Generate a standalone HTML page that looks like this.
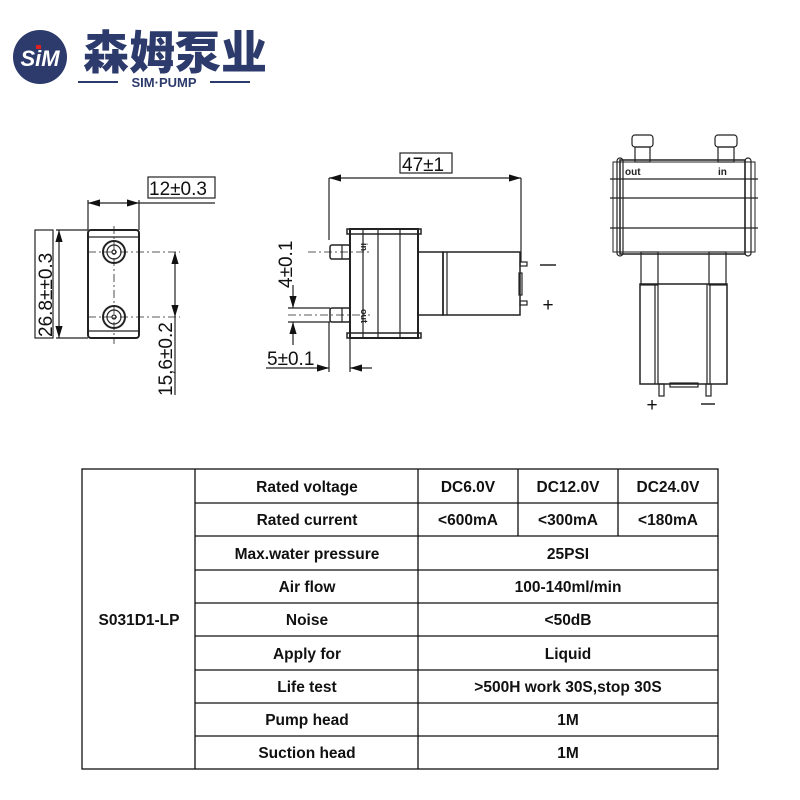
<!DOCTYPE html>
<html><head><meta charset="utf-8"><style>
body{margin:0;background:#fff;width:800px;height:800px;overflow:hidden}
svg{display:block}
.t{font-family:"Liberation Sans Narrow","Liberation Sans",sans-serif;font-weight:bold;font-size:15.5px;fill:#111;text-anchor:middle}
.d{font-family:"Liberation Sans",sans-serif;font-size:19px;fill:#111}
</style></head><body>
<svg width="800" height="800" viewBox="0 0 800 800" xmlns="http://www.w3.org/2000/svg">
<defs><marker id="a" markerWidth="10" markerHeight="6" refX="10" refY="3" orient="auto-start-reverse"><path d="M0,0 L10,3 L0,6z" fill="#111"/></marker></defs>
<!-- logo -->
<circle cx="40" cy="57" r="27" fill="#2c3a6c"/>
<text x="40" y="66" font-family="Liberation Sans,sans-serif" font-weight="bold" font-style="italic" font-size="22" fill="#fff" text-anchor="middle">SiM</text>
<rect x="36" y="45" width="5" height="4" fill="#e02020"/>
<text x="175" y="69" font-family="'Noto Sans CJK SC',sans-serif" font-weight="900" font-size="46" fill="#2c3a6c" text-anchor="middle">森姆泵业</text>
<line x1="78" y1="82" x2="118" y2="82" stroke="#2c3a6c" stroke-width="2"/>
<line x1="210" y1="82" x2="250" y2="82" stroke="#2c3a6c" stroke-width="2"/>
<text x="164" y="87" font-family="Liberation Sans,sans-serif" font-weight="bold" font-size="13" fill="#2c3a6c" text-anchor="middle">SIM·PUMP</text>

<g stroke="#222" fill="none" stroke-width="1.2">
<!-- left view -->
<rect x="88" y="230" width="51" height="108" rx="3" stroke-width="2"/>
<line x1="88" y1="237" x2="139" y2="237"/><line x1="88" y1="331" x2="139" y2="331"/>
<circle cx="114" cy="252" r="11" stroke-width="2"/><circle cx="114" cy="252" r="7"/><circle cx="114" cy="252" r="2"/>
<circle cx="114" cy="317" r="11" stroke-width="2"/><circle cx="114" cy="317" r="7"/><circle cx="114" cy="317" r="2"/>
<line x1="114" y1="226" x2="114" y2="344" stroke-dasharray="8,3,2,3" stroke-width="0.8"/>
<line x1="88" y1="252" x2="180" y2="252" stroke-dasharray="8,3,2,3" stroke-width="0.8"/>
<line x1="88" y1="317" x2="180" y2="317" stroke-dasharray="8,3,2,3" stroke-width="0.8"/>
<line x1="88" y1="200" x2="88" y2="230"/><line x1="139" y1="200" x2="139" y2="230"/>
<line x1="88" y1="203" x2="139" y2="203" marker-start="url(#a)" marker-end="url(#a)"/>
<line x1="139" y1="203" x2="215" y2="203"/>
<rect x="148" y="177" width="67" height="21"/>
<line x1="56" y1="230" x2="88" y2="230"/><line x1="56" y1="338" x2="88" y2="338"/>
<line x1="59" y1="230" x2="59" y2="338" marker-start="url(#a)" marker-end="url(#a)"/>
<rect x="35" y="230" width="18" height="108"/>
<line x1="175" y1="252" x2="175" y2="317" marker-start="url(#a)" marker-end="url(#a)"/>
<line x1="175" y1="317" x2="175" y2="395"/>

<!-- middle view -->
<rect x="350" y="229" width="68" height="109" stroke-width="2"/>
<rect x="347" y="229" width="74" height="5" stroke-width="1.5"/><rect x="347" y="333" width="74" height="5" stroke-width="1.5"/>
<line x1="363" y1="229" x2="363" y2="338"/><line x1="378" y1="229" x2="378" y2="338"/><line x1="400" y1="229" x2="400" y2="338"/>
<path d="M418,252 H443 V315 H418" stroke-width="1.5"/>
<rect x="443" y="252" width="77" height="63" stroke-width="1.5"/>
<line x1="447" y1="252" x2="447" y2="315"/>
<rect x="520" y="262" width="7" height="4"/><rect x="520" y="301" width="7" height="4"/>
<rect x="519" y="273" width="3" height="22"/>
<rect x="330" y="245" width="20" height="14" rx="2" stroke-width="1.5"/>
<line x1="342" y1="245" x2="342" y2="259"/>
<rect x="330" y="308" width="20" height="14" rx="2" stroke-width="1.5"/>
<line x1="342" y1="308" x2="342" y2="322"/>
<line x1="308" y1="252" x2="370" y2="252" stroke-dasharray="8,3,2,3" stroke-width="0.8"/>
<line x1="288" y1="315" x2="370" y2="315" stroke-dasharray="8,3,2,3" stroke-width="0.8"/>
<line x1="288" y1="308" x2="330" y2="308"/><line x1="288" y1="322" x2="330" y2="322"/>
<line x1="293" y1="285" x2="293" y2="308" marker-end="url(#a)"/>
<line x1="293" y1="322" x2="293" y2="345" marker-start="url(#a)"/>
<line x1="329" y1="178" x2="329" y2="240"/><line x1="521" y1="178" x2="521" y2="262"/>
<line x1="329" y1="178" x2="521" y2="178" marker-start="url(#a)" marker-end="url(#a)"/>
<rect x="400" y="153" width="52" height="20"/>
<line x1="329" y1="322" x2="329" y2="372"/><line x1="350" y1="338" x2="350" y2="372"/>
<line x1="266" y1="368" x2="329" y2="368" marker-end="url(#a)"/>
<line x1="350" y1="368" x2="372" y2="368" marker-start="url(#a)"/>

<!-- right view -->
<rect x="613" y="162" width="142" height="90" stroke-width="1"/>
<rect x="620" y="160" width="125" height="94" stroke-width="1.5"/>
<rect x="617" y="158" width="6" height="98" rx="3"/><rect x="745" y="158" width="6" height="98" rx="3"/>
<line x1="610" y1="179" x2="758" y2="179"/><line x1="610" y1="198" x2="758" y2="198"/><line x1="610" y1="228" x2="758" y2="228"/>
<rect x="632" y="135" width="21" height="12" rx="3"/><rect x="635" y="147" width="15" height="15"/>
<rect x="715" y="135" width="22" height="12" rx="3"/><rect x="718" y="147" width="16" height="15"/>
<rect x="641" y="252" width="17" height="33"/><rect x="709" y="252" width="17" height="33"/>
<rect x="640" y="284" width="87" height="100" stroke-width="1.5"/>
<line x1="655" y1="284" x2="655" y2="384"/><line x1="658" y1="284" x2="658" y2="384"/>
<line x1="710" y1="284" x2="710" y2="384"/><line x1="707" y1="284" x2="707" y2="384"/>
<rect x="659" y="384" width="5" height="12"/><rect x="706" y="384" width="5" height="12"/>
<rect x="670" y="383" width="28" height="4"/>
</g>
<text x="625" y="175" font-family="Liberation Sans,sans-serif" font-weight="bold" font-size="10" fill="#222">out</text>
<text x="718" y="175" font-family="Liberation Sans,sans-serif" font-weight="bold" font-size="10" fill="#222">in</text>
<text x="652" y="411" class="d" font-size="20" text-anchor="middle">+</text>
<line x1="701" y1="404" x2="715" y2="404" stroke="#222" stroke-width="1.5"/>
<line x1="540" y1="265" x2="556" y2="265" stroke="#222" stroke-width="1.5"/>
<text x="548" y="311" class="d" font-size="22" text-anchor="middle">+</text>
<text x="361" y="243" font-family="Liberation Sans,sans-serif" font-weight="bold" font-size="9" fill="#222" transform="rotate(90 361 243)">in</text>
<text x="361" y="309" font-family="Liberation Sans,sans-serif" font-weight="bold" font-size="9" fill="#222" transform="rotate(90 361 309)">out</text>

<text x="149" y="195" class="d">12±0.3</text>
<text x="0" y="0" class="d" transform="translate(52,337) rotate(-90)">26.8±±0.3</text>
<text x="0" y="0" class="d" transform="translate(172,396) rotate(-90)">15,6±0.2</text>
<text x="402" y="171" class="d">47±1</text>
<text x="0" y="0" class="d" transform="translate(292,288) rotate(-90)">4±0.1</text>
<text x="267" y="365" class="d">5±0.1</text>

<!-- table -->
<g stroke="#111" stroke-width="1.3" fill="none">
<rect x="82" y="469" width="636" height="300"/>
<line x1="195" y1="469" x2="195" y2="769"/>
<line x1="418" y1="469" x2="418" y2="769"/>
<line x1="518" y1="469" x2="518" y2="536"/><line x1="618" y1="469" x2="618" y2="536"/>
<line x1="195" y1="503" x2="718" y2="503"/><line x1="195" y1="536" x2="718" y2="536"/>
<line x1="195" y1="570" x2="718" y2="570"/><line x1="195" y1="603" x2="718" y2="603"/>
<line x1="195" y1="636" x2="718" y2="636"/><line x1="195" y1="670" x2="718" y2="670"/>
<line x1="195" y1="703" x2="718" y2="703"/><line x1="195" y1="736" x2="718" y2="736"/>
</g>
<text class="t" x="139" y="625">S031D1-LP</text>
<text class="t" x="307" y="492">Rated voltage</text>
<text class="t" x="307" y="525">Rated current</text>
<text class="t" x="307" y="559">Max.water pressure</text>
<text class="t" x="307" y="592">Air flow</text>
<text class="t" x="307" y="625">Noise</text>
<text class="t" x="307" y="659">Apply for</text>
<text class="t" x="307" y="692">Life test</text>
<text class="t" x="307" y="725">Pump head</text>
<text class="t" x="307" y="758">Suction  head</text>
<text class="t" x="468" y="492">DC6.0V</text>
<text class="t" x="568" y="492">DC12.0V</text>
<text class="t" x="668" y="492">DC24.0V</text>
<text class="t" x="468" y="525">&lt;600mA</text>
<text class="t" x="568" y="525">&lt;300mA</text>
<text class="t" x="668" y="525">&lt;180mA</text>
<text class="t" x="568" y="559">25PSI</text>
<text class="t" x="568" y="592">100-140ml/min</text>
<text class="t" x="568" y="625">&lt;50dB</text>
<text class="t" x="568" y="659">Liquid</text>
<text class="t" x="568" y="692">&gt;500H work 30S,stop 30S</text>
<text class="t" x="568" y="725">1M</text>
<text class="t" x="568" y="758">1M</text>
</svg>
</body></html>
